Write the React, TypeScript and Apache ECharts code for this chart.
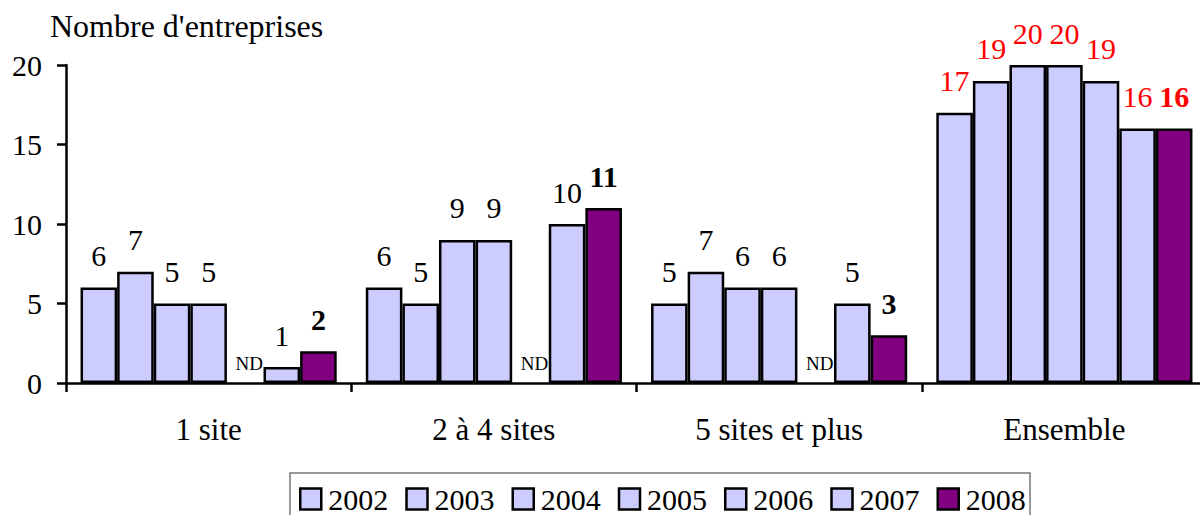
import React, { useEffect, useRef } from "react";
import * as echarts from "echarts";

const categories = ["1 site", "2 à 4 sites", "5 sites et plus", "Ensemble"];
const years = ["2002", "2003", "2004", "2005", "2006", "2007", "2008"];
const v2002 = [6, 6, 5, 17];
const v2003 = [7, 5, 7, 19];
const v2004 = [5, 9, 6, 20];
const v2005 = [5, 9, 6, 20];
const v2006: (number | null)[] = [null, null, null, 19];
const v2007 = [1, 10, 5, 16];
const v2008 = [2, 11, 3, 16];
const seriesValues = [v2002, v2003, v2004, v2005, v2006, v2007, v2008];
const yTicks = [0, 5, 10, 15, 20];
const missingLabel = "ND";
const yAxisTitle = "Nombre d'entreprises";

const FONT = "Liberation Serif";
const LIGHT = "#CCCCFF";
const DARK = "#800080";

export default function App() {
  const ref = useRef<HTMLDivElement>(null);
  useEffect(() => {
    if (!ref.current) return;
    document.body.style.overflow = "hidden";
    const chart = echarts.init(ref.current, undefined, { renderer: "svg" });
    const series = years.map((y, si) => {
      const isLast = si === years.length - 1;
      return {
        name: y,
        type: "bar",
        barGap: "0%",
        barCategoryGap: "10.2%",
        itemStyle: {
          color: isLast ? DARK : LIGHT,
          borderColor: "#000",
          borderWidth: 2.5,
        },
        label: {
          show: true,
          position: "top",
          distance: 17,
          fontFamily: FONT,
          fontSize: 30,
          fontWeight: isLast ? "bold" : "normal",
          color: "#000",
        },
        data: seriesValues[si].map((v, ci) => {
          if (v === null) {
            return {
              value: 0,
              itemStyle: { borderWidth: 0 },
              label: {
                formatter: missingLabel,
                fontSize: 19,
                distance: 10,
                offset: [4, 0],
                color: "#000",
                fontWeight: "normal",
              },
            };
          }
          return {
            value: v,
            label: { color: ci === 3 ? "#FF0000" : "#000" },
          };
        }),
      };
    });
    chart.setOption({
      animation: false,
      textStyle: { fontFamily: FONT },
      title: {
        text: yAxisTitle,
        left: 45,
        top: 5,
        textStyle: {
          fontFamily: FONT,
          fontSize: 32,
          fontWeight: "normal",
          color: "#000",
        },
      },
      grid: {
        left: 66,
        top: 65,
        bottom: 132,
        right: 0,
        containLabel: false,
        outerBoundsMode: "none",
      },
      xAxis: {
        type: "category",
        data: categories,
        axisLine: { show: true, lineStyle: { color: "#000", width: 2.5 } },
        axisTick: {
          show: true,
          alignWithLabel: false,
          length: 9,
          lineStyle: { color: "#000", width: 2.5 },
        },
        axisLabel: {
          margin: 31,
          fontFamily: FONT,
          fontSize: 31,
          color: "#000",
        },
      },
      yAxis: {
        type: "value",
        min: yTicks[0],
        max: yTicks[yTicks.length - 1],
        interval: 5,
        splitLine: { show: false },
        axisLine: { show: true, lineStyle: { color: "#000", width: 2.5 } },
        axisTick: {
          show: true,
          length: 9,
          lineStyle: { color: "#000", width: 2.5 },
        },
        axisLabel: {
          margin: 24,
          fontFamily: FONT,
          fontSize: 30,
          color: "#000",
        },
      },
      legend: {
        data: years,
        left: 299,
        top: 484,
        padding: 0,
        icon: "rect",
        itemWidth: 21,
        itemHeight: 21,
        itemGap: 17,
        itemStyle: { borderColor: "#000", borderWidth: 2.5 },
        textStyle: {
          fontFamily: FONT,
          fontSize: 30,
          color: "#000",
          padding: [0, 0, 0, 2],
        },
      },
      graphic: [
        {
          type: "rect",
          shape: { x: 290, y: 473, width: 740, height: 60 },
          style: { fill: "none", stroke: "#777", lineWidth: 1.5 },
          silent: true,
        },
      ],
      series,
    });
    return () => chart.dispose();
  }, []);
  return (
    <div
      ref={ref}
      style={{ position: "fixed", left: 0, top: 0, width: 1207, height: 515, background: "#fff" }}
    />
  );
}
